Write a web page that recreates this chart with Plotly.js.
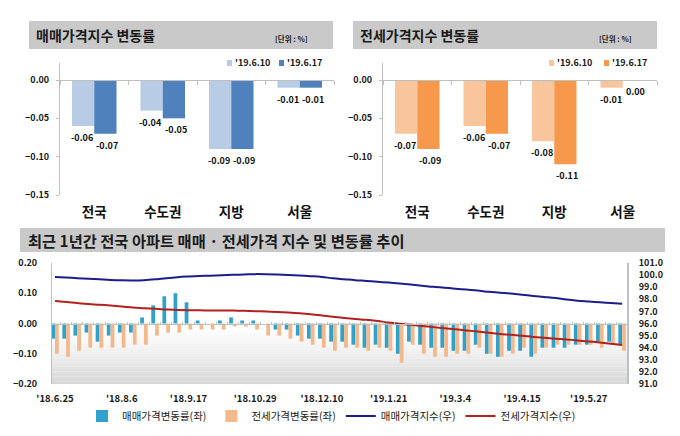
<!DOCTYPE html>
<html><head><meta charset="utf-8">
<script src="https://cdn.plot.ly/plotly-3.0.1.min.js"></script>
<style>html,body{margin:0;padding:0;background:#fff}#chart{width:680px;height:436px}</style>
</head><body><div id="chart"></div>
<script>
// ---- top charts data ----
const regions = ['전국', '수도권', '지방', '서울'];
const salePrev = [-0.06, -0.04, -0.09, -0.01];
const saleCurr = [-0.07, -0.05, -0.09, -0.01];
const jeonsePrev = [-0.07, -0.06, -0.08, -0.01];
const jeonseCurr = [-0.09, -0.07, -0.11, 0.00];
const prevLabel = "'19.6.10";
const currLabel = "'19.6.17";
const topTickVals = [0, -0.05, -0.10, -0.15];

// ---- bottom chart data (weekly, '18.6.25 ~ '19.6.17) ----
const weekTickLabels = ["'18.6.25", "'18.8.6", "'18.9.17", "'18.10.29", "'18.12.10", "'19.1.21", "'19.3.4", "'19.4.15", "'19.5.27"];
const saleChange = [-0.05, -0.05, -0.04, -0.03, -0.06, -0.04, -0.03, -0.03, 0.02, 0.06,
  0.09, 0.10, 0.07, 0.01, 0.00, 0.01, 0.02, 0.01, 0.01, 0.00,
  -0.02, -0.02, -0.04, -0.05, -0.05, -0.06, -0.06, -0.07, -0.08, -0.07,
  -0.08, -0.10, -0.06, -0.07, -0.08, -0.08, -0.09, -0.09, -0.07, -0.10,
  -0.11, -0.09, -0.09, -0.11, -0.08, -0.08, -0.08, -0.07, -0.07, -0.06,
  -0.06, -0.07];
const jeonseChange = [-0.10, -0.11, -0.09, -0.08, -0.08, -0.08, -0.08, -0.07, -0.07, -0.04,
  -0.03, -0.03, -0.02, -0.02, -0.02, -0.02, -0.01, -0.01, -0.02, -0.04,
  -0.04, -0.05, -0.06, -0.07, -0.08, -0.09, -0.08, -0.08, -0.09, -0.08,
  -0.09, -0.13, -0.07, -0.10, -0.11, -0.11, -0.10, -0.10, -0.08, -0.10,
  -0.11, -0.10, -0.08, -0.10, -0.08, -0.07, -0.07, -0.07, -0.07, -0.08,
  -0.07, -0.09];
const saleIndex = [99.85, 99.80, 99.75, 99.70, 99.65, 99.60, 99.57, 99.56, 99.58, 99.65,
  99.75, 99.83, 99.88, 99.92, 99.95, 99.98, 100.02, 100.05, 100.08, 100.07,
  100.04, 100.00, 99.96, 99.91, 99.85, 99.74, 99.66, 99.58, 99.52, 99.45,
  99.38, 99.30, 99.22, 99.13, 99.03, 98.96, 98.88, 98.80, 98.73, 98.62,
  98.55, 98.47, 98.38, 98.28, 98.19, 98.10, 97.98, 97.89, 97.82, 97.75,
  97.69, 97.63];
const jeonseIndex = [97.86, 97.78, 97.69, 97.61, 97.55, 97.48, 97.41, 97.33, 97.27, 97.21,
  97.16, 97.12, 97.10, 97.09, 97.08, 97.08, 97.07, 97.05, 97.02, 96.99,
  96.95, 96.90, 96.84, 96.76, 96.66, 96.55, 96.46, 96.38, 96.30, 96.20,
  96.08, 95.97, 95.89, 95.80, 95.70, 95.61, 95.52, 95.43, 95.33, 95.23,
  95.14, 95.06, 94.98, 94.89, 94.82, 94.75, 94.68, 94.60, 94.52, 94.43,
  94.33, 94.22];
const seriesNames = ['매매가격변동률(좌)', '전세가격변동률(좌)', '매매가격지수(우)', '전세가격지수(우)'];

// ---- helpers ----
const W = 680, H = 436;
const px = v => v / W;
const py = v => 1 - v / H;
const F = "'Noto Sans CJK KR', 'Noto Sans', sans-serif";
const C = {
  tlLight: '#b8cce6', tlDark: '#4f81bd',
  trLight: '#f9c59c', trDark: '#f6994c',
  bBlue: '#30a1c8', bOrange: '#f3b88b',
  navy: '#1d1d8a', red: '#b0211f',
  axis: '#bfbfbf', bar: '#c9c9c9', txt: '#1a1a1a'
};
const idx = regions.map((_, i) => i);
const weeks = saleChange.map((_, i) => i);
const weekTickVals = weekTickLabels.map((_, k) => k * 6);
const BW = 0.325;

// domains
const tlX = [px(60), px(334)], trX = [px(383), px(657)], topY = [py(195), py(63)];
const bX = [px(52), px(627)], bY = [py(384), py(263)];
const topRange = [-0.15, 0.0222];
const zeroPos = (dom, rng) => dom[0] + (0 - rng[0]) / (rng[1] - rng[0]) * (dom[1] - dom[0]);

const traces = [
  {type: 'bar', x: idx, y: salePrev, xaxis: 'x', yaxis: 'y', offset: -BW, width: BW, marker: {color: C.tlLight}, name: prevLabel, showlegend: false, hoverinfo: 'skip'},
  {type: 'bar', x: idx, y: saleCurr, xaxis: 'x', yaxis: 'y', offset: 0, width: BW, marker: {color: C.tlDark}, name: currLabel, showlegend: false, hoverinfo: 'skip'},
  {type: 'bar', x: idx, y: jeonsePrev, xaxis: 'x2', yaxis: 'y2', offset: -BW, width: BW, marker: {color: C.trLight}, name: prevLabel, showlegend: false, hoverinfo: 'skip'},
  {type: 'bar', x: idx, y: jeonseCurr, xaxis: 'x2', yaxis: 'y2', offset: 0, width: BW, marker: {color: C.trDark}, name: currLabel, showlegend: false, hoverinfo: 'skip'},
  {type: 'bar', x: weeks, y: saleChange, xaxis: 'x3', yaxis: 'y3', offset: -0.34, width: 0.34, marker: {color: C.bBlue}, name: seriesNames[0]},
  {type: 'bar', x: weeks, y: jeonseChange, xaxis: 'x3', yaxis: 'y3', offset: 0, width: 0.34, marker: {color: C.bOrange}, name: seriesNames[1]},
  {type: 'scatter', mode: 'lines', x: weeks, y: saleIndex, xaxis: 'x3', yaxis: 'y4', line: {color: C.navy, width: 2, shape: 'spline'}, name: seriesNames[2]},
  {type: 'scatter', mode: 'lines', x: weeks, y: jeonseIndex, xaxis: 'x3', yaxis: 'y4', line: {color: C.red, width: 2, shape: 'spline'}, name: seriesNames[3]},
  // carriers for zero-line axes
  {type: 'scatter', x: [], y: [], xaxis: 'x4', yaxis: 'y', showlegend: false},
  {type: 'scatter', x: [], y: [], xaxis: 'x5', yaxis: 'y2', showlegend: false},
  {type: 'scatter', x: [], y: [], xaxis: 'x6', yaxis: 'y3', showlegend: false}
];

const tickFont = {family: F, size: 9, color: C.txt, weight: 'bold'};
const catFont = {family: F, size: 13.5, color: '#111', weight: 'bold'};

function topX(dom) {
  return {domain: dom, range: [-0.5, 3.5], tickvals: idx, ticktext: regions, ticks: '', showline: false,
    showgrid: false, zeroline: false, tickfont: catFont, ticklabelstandoff: 7, fixedrange: true};
}
function topYAx(dom, anchor) {
  return {domain: dom, range: topRange, tickvals: topTickVals, tickformat: '.2f', anchor: anchor,
    showline: true, linecolor: C.axis, linewidth: 1, ticks: 'outside', ticklen: 3, tickcolor: C.axis,
    showgrid: false, zeroline: false, tickfont: tickFont, ticklabelstandoff: 5, fixedrange: true};
}
function zeroAx(dom, over, pos, rng, dt, tickdir, len) {
  return {domain: dom, overlaying: over, anchor: 'free', position: pos, range: rng, tick0: -0.5, dtick: dt,
    showline: true, linecolor: C.axis, linewidth: 1, ticks: tickdir, ticklen: len, tickcolor: C.axis,
    showticklabels: false, showgrid: false, zeroline: false, fixedrange: true};
}
const bRange = [-0.27, 51.44];

const layout = {
  width: W, height: H, margin: {l: 0, r: 0, t: 0, b: 0}, autosize: false,
  paper_bgcolor: '#ffffff', plot_bgcolor: 'rgba(0,0,0,0)',
  barmode: 'group', showlegend: true, font: {family: F},
  xaxis: topX(tlX), yaxis: topYAx(topY, 'x'),
  xaxis2: topX(trX), yaxis2: topYAx(topY, 'x2'),
  xaxis3: {domain: bX, range: bRange, tickvals: weekTickVals, ticktext: weekTickLabels, ticks: '', showline: false,
    showgrid: false, zeroline: false, tickfont: {family: F, size: 9.5, color: C.txt, weight: 'bold'}, ticklabelstandoff: 7, anchor: 'y3', fixedrange: true},
  yaxis3: {domain: bY, range: [-0.2, 0.2], tickvals: [0.2, 0.1, 0, -0.1, -0.2], tickformat: '.2f', anchor: 'x3',
    showline: true, linecolor: C.axis, ticks: '', showgrid: false, zeroline: false, tickfont: tickFont,
    ticklabelstandoff: 12, fixedrange: true},
  yaxis4: {domain: bY, range: [91, 101], dtick: 1, tickformat: '.1f', overlaying: 'y3', side: 'right', anchor: 'x3',
    showline: true, linecolor: C.axis, linewidth: 2, ticks: '', showgrid: false, zeroline: false, tickfont: tickFont,
    ticklabelstandoff: 8, fixedrange: true},
  xaxis4: zeroAx(tlX, 'x', zeroPos(topY, topRange), [-0.5, 3.5], 1, 'outside', 4),
  xaxis5: zeroAx(trX, 'x2', zeroPos(topY, topRange), [-0.5, 3.5], 1, 'outside', 4),
  xaxis6: zeroAx(bX, 'x3', zeroPos(bY, [-0.2, 0.2]), bRange, 1, 'inside', 2),
  legend: {orientation: 'h', x: px(82), xanchor: 'left', y: py(416), yanchor: 'middle',
    font: {family: F, size: 10.5, color: C.txt}, bgcolor: 'rgba(0,0,0,0)', itemclick: false, itemdoubleclick: false,
    traceorder: 'normal'},
  shapes: [],
  annotations: []
};

// title banners
[[29, 333, 21, 49], [353, 657, 21, 49], [20, 665, 228, 252]].forEach(b => {
  layout.shapes.push({type: 'rect', xref: 'paper', yref: 'paper', x0: px(b[0]), x1: px(b[1]), y0: py(b[3]), y1: py(b[2]),
    fillcolor: C.bar, line: {width: 0}, layer: 'below'});
});
// bottom gradient background below zero
const steps = 24;
for (let s = 0; s < steps; s++) {
  const t = (s + 0.5) / steps;
  const g = Math.round(255 - 42 * Math.pow(t, 1.3));
  layout.shapes.push({type: 'rect', xref: 'x3 domain', yref: 'y3', x0: 0, x1: 1,
    y0: -0.2 * s / steps, y1: -0.2 * (s + 1) / steps, fillcolor: `rgb(${g},${g},${g})`, line: {width: 0}, layer: 'below'});
}

const titleFont = {family: F, size: 14, color: C.txt, weight: 'bold'};
const unitFont = {family: F, size: 7.5, color: C.txt, weight: 'bold'};
const A = layout.annotations;
A.push({xref: 'paper', yref: 'paper', x: px(34), y: py(35), xanchor: 'left', yanchor: 'middle', text: '매매가격지수 변동률', showarrow: false, font: titleFont});
A.push({xref: 'paper', yref: 'paper', x: px(358), y: py(35), xanchor: 'left', yanchor: 'middle', text: '전세가격지수 변동률', showarrow: false, font: titleFont});
A.push({xref: 'paper', yref: 'paper', x: px(291), y: py(38), xanchor: 'center', yanchor: 'middle', text: '[단위 : %]', showarrow: false, font: unitFont});
A.push({xref: 'paper', yref: 'paper', x: px(615), y: py(38), xanchor: 'center', yanchor: 'middle', text: '[단위 : %]', showarrow: false, font: unitFont});
A.push({xref: 'paper', yref: 'paper', x: px(26), y: py(240), xanchor: 'left', yanchor: 'middle', text: '최근 1년간 전국 아파트 매매 · 전세가격 지수 및 변동률 추이', showarrow: false, font: {family: F, size: 15.3, color: C.txt, weight: 'bold'}});

// value labels on top bars
const valFont = {family: F, size: 9, color: '#111', weight: 'bold'};
function labels(xa, ya, prev, curr) {
  idx.forEach(i => {
    [[prev[i], -BW / 2 - 0.01], [curr[i], BW / 2 + 0.03]].forEach(([v, off]) => {
      A.push({xref: xa, yref: ya, x: i + off, y: v, text: v.toFixed(2), showarrow: false,
        xanchor: 'center', yanchor: 'top', yshift: -3, font: valFont});
    });
  });
}
labels('x', 'y', salePrev, saleCurr);
labels('x2', 'y2', jeonsePrev, jeonseCurr);

// small legends of the top charts
const legFont = {family: F, size: 9, color: C.txt, weight: 'bold'};
function miniLegend(items) {
  items.forEach(([sx, color, text]) => {
    layout.shapes.push({type: 'rect', xref: 'paper', yref: 'paper', x0: px(sx), x1: px(sx + 5), y0: py(66), y1: py(60),
      fillcolor: color, line: {width: 0}});
    A.push({xref: 'paper', yref: 'paper', x: px(sx + 6), y: py(63), xanchor: 'left', yanchor: 'middle', text: text,
      showarrow: false, font: legFont});
  });
}
miniLegend([[227, C.tlLight, prevLabel], [279, C.tlDark, currLabel]]);
miniLegend([[549, C.trLight, prevLabel], [604, C.trDark, currLabel]]);

Plotly.newPlot('chart', traces, layout, {staticPlot: true, displayModeBar: false});
</script></body></html>
